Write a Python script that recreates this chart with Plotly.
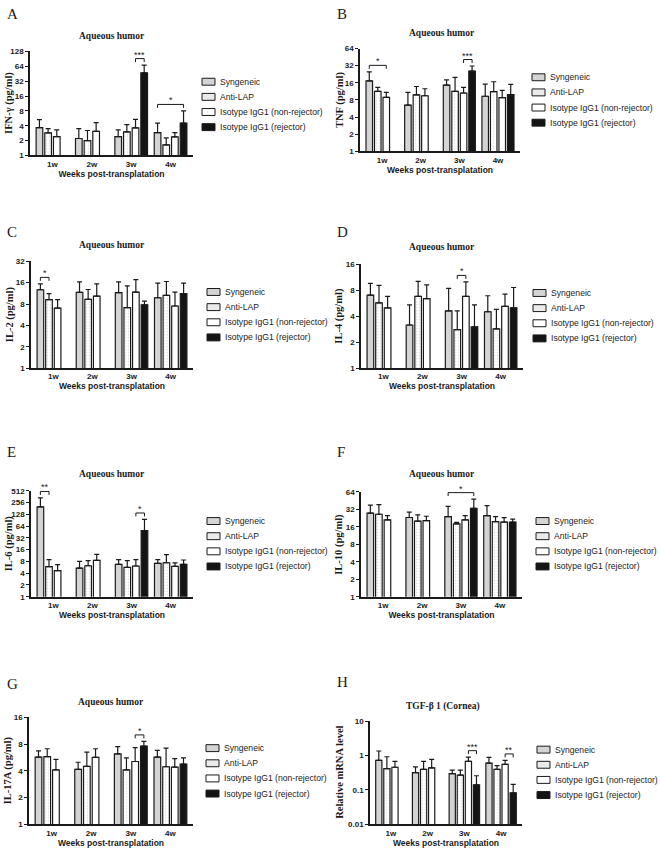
import math
import plotly.graph_objects as go

# ---------------- data ----------------
weeks = ["1w", "2w", "3w", "4w"]
groups = ["Syngeneic", "Anti-LAP", "Isotype IgG1 (non-rejector)", "Isotype IgG1 (rejector)"]

# rows = groups (Syngeneic, Anti-LAP, non-rejector, rejector); columns = weeks
ifng_mean = [[3.65, 2.2, 2.4, 2.9], [2.85, 2.0, 3.0, 1.64], [2.4, 3.08, 3.6, 2.37], [None, None, 47, 4.5]]
ifng_upper = [[5.3, 3.5, 3.3, 4.5], [3.5, 3.2, 4.2, 2.26], [3.3, 4.6, 5.4, 2.9], [None, None, 68, 8.0]]
ifng_sig = [(2, 2, 3, "***"), (3, 0, 3, "*")]
ifng_ticks = [1, 2, 4, 8, 16, 32, 64, 128]

tnf_mean = [[17.3, 6.5, 14.6, 9.3], [11.3, 9.8, 11.3, 11.2], [8.9, 9.5, 10.6, 8.8], [None, None, 25.8, 9.9]]
tnf_upper = [[25, 10.9, 18, 15.2], [13.3, 13.8, 20, 16.7], [10.9, 12.6, 13.3, 11.8], [None, None, 31.6, 15]]
tnf_sig = [(0, 0, 2, "*"), (2, 2, 3, "***")]
tnf_ticks = [1, 2, 4, 8, 16, 32, 64]

il2_mean = [[12.7, 11.7, 11.6, 9.8], [9.2, 9.3, 7.1, 10.6], [7.0, 10.3, 11.8, 7.5], [None, None, 7.8, 11.2]]
il2_upper = [[15.4, 16.4, 16.4, 15.8], [11.2, 12.8, 14.4, 16.6], [9.2, 15.4, 17.7, 11.8], [None, None, 8.8, 15.8]]
il2_sig = [(0, 0, 1, "*")]
il2_ticks = [1, 2, 4, 8, 16, 32]

il4_mean = [[7.0, 3.16, 4.6, 4.5], [5.7, 6.8, 2.8, 2.85], [5.0, 6.4, 6.8, 5.2], [None, None, 3.0, 5.0]]
il4_upper = [[9.6, 5.4, 8.4, 6.9], [9.1, 10.1, 4.6, 4.8], [6.8, 9.2, 10.0, 7.2], [None, None, 5.4, 8.6]]
il4_sig = [(2, 1, 2, "*")]
il4_ticks = [1, 2, 4, 8, 16]

il6_mean = [[199, 5.4, 6.7, 7.1], [5.9, 6.2, 5.66, 7.4], [4.66, 8.5, 6.1, 6.0], [None, None, 49, 6.7]]
il6_upper = [[338, 8.0, 8.9, 8.9], [8.9, 8.4, 8.4, 11.9], [6.6, 12.1, 8.9, 7.3], [None, None, 95, 8.7]]
il6_sig = [(0, 0, 1, "**"), (2, 2, 3, "*")]
il6_ticks = [1, 2, 4, 8, 16, 32, 64, 128, 256, 512]

il10_mean = [[27.4, 23.1, 24, 25], [26.3, 20.0, 18.0, 19.7], [21.1, 20.5, 21.1, 19.3], [None, None, 33.3, 19.3]]
il10_upper = [[37.9, 28.5, 36, 36.9], [38.5, 25.6, 19, 24], [25.0, 24.3, 25, 23], [None, None, 48, 21.7]]
il10_sig = [(2, 0, 3, "*")]
il10_ticks = [1, 2, 4, 8, 16, 32, 64]

il17_mean = [[5.7, 4.16, 6.2, 5.7], [5.8, 4.5, 4.1, 4.45], [4.1, 5.66, 5.1, 4.4], [None, None, 7.6, 4.77]]
il17_upper = [[6.7, 5.0, 7.5, 6.8], [7.1, 6.5, 5.6, 7.2], [5.4, 7.1, 7.3, 5.5], [None, None, 8.6, 5.6]]
il17_sig = [(2, 2, 3, "*")]
il17_ticks = [1, 2, 4, 8, 16]

tgf_mean = [[0.73, 0.32, 0.30, 0.61], [0.42, 0.40, 0.27, 0.40], [0.46, 0.44, 0.68, 0.56], [None, None, 0.14, 0.082]]
tgf_upper = [[1.37, 0.47, 0.38, 0.89], [0.93, 0.68, 0.38, 0.51], [0.68, 0.78, 0.91, 0.73], [None, None, 0.26, 0.146]]
tgf_sig = [(2, 2, 3, "***"), (3, 2, 3, "**")]
tgf_ticks = [0.01, 0.1, 1, 10]

# ---------------- layout / style ----------------
W, H = 660, 856
SANS = "Liberation Sans, Arial, sans-serif"
SERIF = "Liberation Serif, Times New Roman, serif"
INK = "#1a1a1a"
BARGAP = 0.12
XR = [-0.57, 3.57]
LEG_STEP = 15.3

fills = ["#d4d4d4", "white", "white", "#141414"]
swatch_fills = ["#d4d4d4", "#ebebeb", "white", "#141414"]

panels = [
    dict(letter="A", title="Aqueous humor", ytitle="IFN-γ (pg/ml)", mean=ifng_mean, upper=ifng_upper,
         sig=ifng_sig, ticks=ifng_ticks, box=(30, 193, 48, 153), tpos=(112, 32), lpos=(5, 10),
         leg=(218, 101.5), ytx=9.5),
    dict(letter="B", title="Aqueous humor", ytitle="TNF (pg/ml)", mean=tnf_mean, upper=tnf_upper,
         sig=tnf_sig, ticks=tnf_ticks, box=(360, 520, 45, 149), tpos=(442, 29), lpos=(335, 10),
         leg=(548, 97), ytx=340),
    dict(letter="C", title="Aqueous humor", ytitle="IL-2 (pg/ml)", mean=il2_mean, upper=il2_upper,
         sig=il2_sig, ticks=il2_ticks, box=(31, 193, 260, 368), tpos=(112, 244), lpos=(5, 230),
         leg=(223, 314), ytx=9.5),
    dict(letter="D", title="Aqueous humor", ytitle="IL-4 (pg/ml)", mean=il4_mean, upper=il4_upper,
         sig=il4_sig, ticks=il4_ticks, box=(361, 523, 263, 368), tpos=(442, 246), lpos=(335, 230),
         leg=(549, 315), ytx=339.5),
    dict(letter="E", title="Aqueous humor", ytitle="IL-6 (pg/ml)", mean=il6_mean, upper=il6_upper,
         sig=il6_sig, ticks=il6_ticks, box=(31, 193, 492, 599), tpos=(112, 475), lpos=(5, 453),
         leg=(223, 545.5), ytx=8.5),
    dict(letter="F", title="Aqueous humor", ytitle="IL-10 (pg/ml)", mean=il10_mean, upper=il10_upper,
         sig=il10_sig, ticks=il10_ticks, box=(361, 522, 493, 599), tpos=(442, 475), lpos=(335, 453),
         leg=(552, 545.5), ytx=339.5),
    dict(letter="G", title="Aqueous humor", ytitle="IL-17A (pg/ml)", mean=il17_mean, upper=il17_upper,
         sig=il17_sig, ticks=il17_ticks, box=(29, 193, 721, 829), tpos=(111, 705), lpos=(5, 687),
         leg=(222, 775), ytx=7.5),
    dict(letter="H", title="TGF-β 1 (Cornea)", ytitle="Relative mRNA level", mean=tgf_mean, upper=tgf_upper,
         sig=tgf_sig, ticks=tgf_ticks, box=(370, 522, 725, 829), tpos=(443, 710), lpos=(335, 685),
         leg=(553, 776.5), ytx=340),
]


def slot_center(i, j):
    w = (1 - BARGAP) / 4
    return i - (1 - BARGAP) / 2 + (j + 0.5) * w


fig = go.Figure()
annotations = []
shapes = []
layout_axes = {}

for p, P in enumerate(panels, start=1):
    xa = "x" if p == 1 else f"x{p}"
    ya = "y" if p == 1 else f"y{p}"
    x0, x1, y0, y1 = P["box"]
    lo, hi = P["ticks"][0], P["ticks"][-1]

    for g in range(4):
        m = P["mean"][g]
        u = P["upper"][g]
        err = [None if (a is None or b is None) else b - a for a, b in zip(m, u)]
        marker = dict(color=fills[g], line=dict(color=INK, width=1.2))
        if g == 1:
            marker["pattern"] = dict(shape=".", fgcolor="#b4b4b4", bgcolor="white", size=3, solidity=0.2)
        fig.add_trace(go.Bar(
            x=list(range(len(weeks))), y=m, name=groups[g], xaxis=xa, yaxis=ya, showlegend=False,
            marker=marker,
            error_y=dict(type="data", array=err, arrayminus=[0] * len(err), symmetric=False,
                         color=INK, thickness=1.2, width=2.5),
            hovertemplate="%{y}<extra>" + groups[g] + "</extra>",
        ))

    # significance brackets
    px_per_log = (y1 - y0) / (math.log10(hi) - math.log10(lo))
    for (wk, ga, gb, lab) in P["sig"]:
        ups = [P["upper"][g][wk] for g in range(ga, gb + 1) if P["upper"][g][wk] is not None]
        top = math.log10(max(ups))
        br = 10 ** (top + 6.5 / px_per_log)
        leg = 10 ** (top + 3.0 / px_per_log)
        xa_ = slot_center(wk, ga)
        xb_ = slot_center(wk, gb)
        fig.add_trace(go.Scatter(
            x=[xa_, xa_, xb_, xb_], y=[leg, br, br, leg], mode="lines", xaxis=xa, yaxis=ya,
            line=dict(color=INK, width=1), showlegend=False, hoverinfo="skip", cliponaxis=False))
        annotations.append(dict(
            x=(xa_ + xb_) / 2, y=math.log10(br), xref=xa, yref=ya, text=lab, showarrow=False,
            yanchor="middle", yshift=4, font=dict(family=SANS, size=9, color=INK)))

    layout_axes["xaxis" if p == 1 else f"xaxis{p}"] = dict(
        domain=[x0 / W, x1 / W], anchor=ya, range=XR, tickvals=list(range(len(weeks))), ticktext=weeks,
        ticks="", showline=True, linecolor=INK, linewidth=1.5, showgrid=False, zeroline=False,
        tickfont=dict(family=SANS, size=8, weight="bold", color=INK), fixedrange=True,
        title=dict(text="Weeks post-transplatation", standoff=3,
                   font=dict(family=SANS, size=8.5, weight="bold", color=INK)))
    layout_axes["yaxis" if p == 1 else f"yaxis{p}"] = dict(
        domain=[1 - y1 / H, 1 - y0 / H], anchor=xa, type="log",
        range=[math.log10(lo), math.log10(hi)], tickvals=P["ticks"],
        ticktext=["%g" % v for v in P["ticks"]], ticks="outside", ticklen=3, tickwidth=1.2,
        tickcolor=INK, showline=True, linecolor=INK, linewidth=1.5, showgrid=False,
        zeroline=False, fixedrange=True,
        tickfont=dict(family=SANS, size=8, weight="bold", color=INK))

    # legend (swatch + label for each group)
    tx, cy = P["leg"]
    for g in range(4):
        ey = cy + (g - 1.5) * LEG_STEP
        shapes.append(dict(type="rect", xref="paper", yref="paper",
                           x0=(tx - 16) / W, x1=(tx - 3) / W, y0=1 - (ey + 3.5) / H, y1=1 - (ey - 3.5) / H,
                           fillcolor=swatch_fills[g], line=dict(color=INK, width=1)))
        annotations.append(dict(x=tx / W, y=1 - ey / H, xref="paper", yref="paper", xanchor="left",
                                yanchor="middle", text=groups[g], showarrow=False,
                                font=dict(family=SANS, size=8.6, color="#222")))

    # panel letter, title, y-axis title
    annotations.append(dict(x=P["lpos"][0] / W, y=1 - P["lpos"][1] / H, xref="paper", yref="paper",
                            xanchor="left", yanchor="middle", text=P["letter"], showarrow=False,
                            font=dict(family=SERIF, size=15, color=INK)))
    annotations.append(dict(x=P["tpos"][0] / W, y=1 - P["tpos"][1] / H, xref="paper", yref="paper",
                            xanchor="center", yanchor="middle", text=P["title"], showarrow=False,
                            font=dict(family=SERIF, size=9.5, weight="bold", color=INK)))
    annotations.append(dict(x=P["ytx"] / W, y=1 - (y0 + y1) / 2 / H, xref="paper", yref="paper",
                            xanchor="center", yanchor="middle", text=P["ytitle"], textangle=-90,
                            showarrow=False, font=dict(family=SERIF, size=10.5, weight="bold", color=INK)))

fig.update_layout(
    width=W, height=H, autosize=False, margin=dict(l=0, r=0, t=0, b=0),
    paper_bgcolor="white", plot_bgcolor="white", barmode="group", bargap=BARGAP, bargroupgap=0.23,
    showlegend=False, annotations=annotations, shapes=shapes, **layout_axes)

fig.write_html("out.html", config={"displayModeBar": False},
               post_script="document.body.style.margin='0';document.body.style.overflow='hidden';")
